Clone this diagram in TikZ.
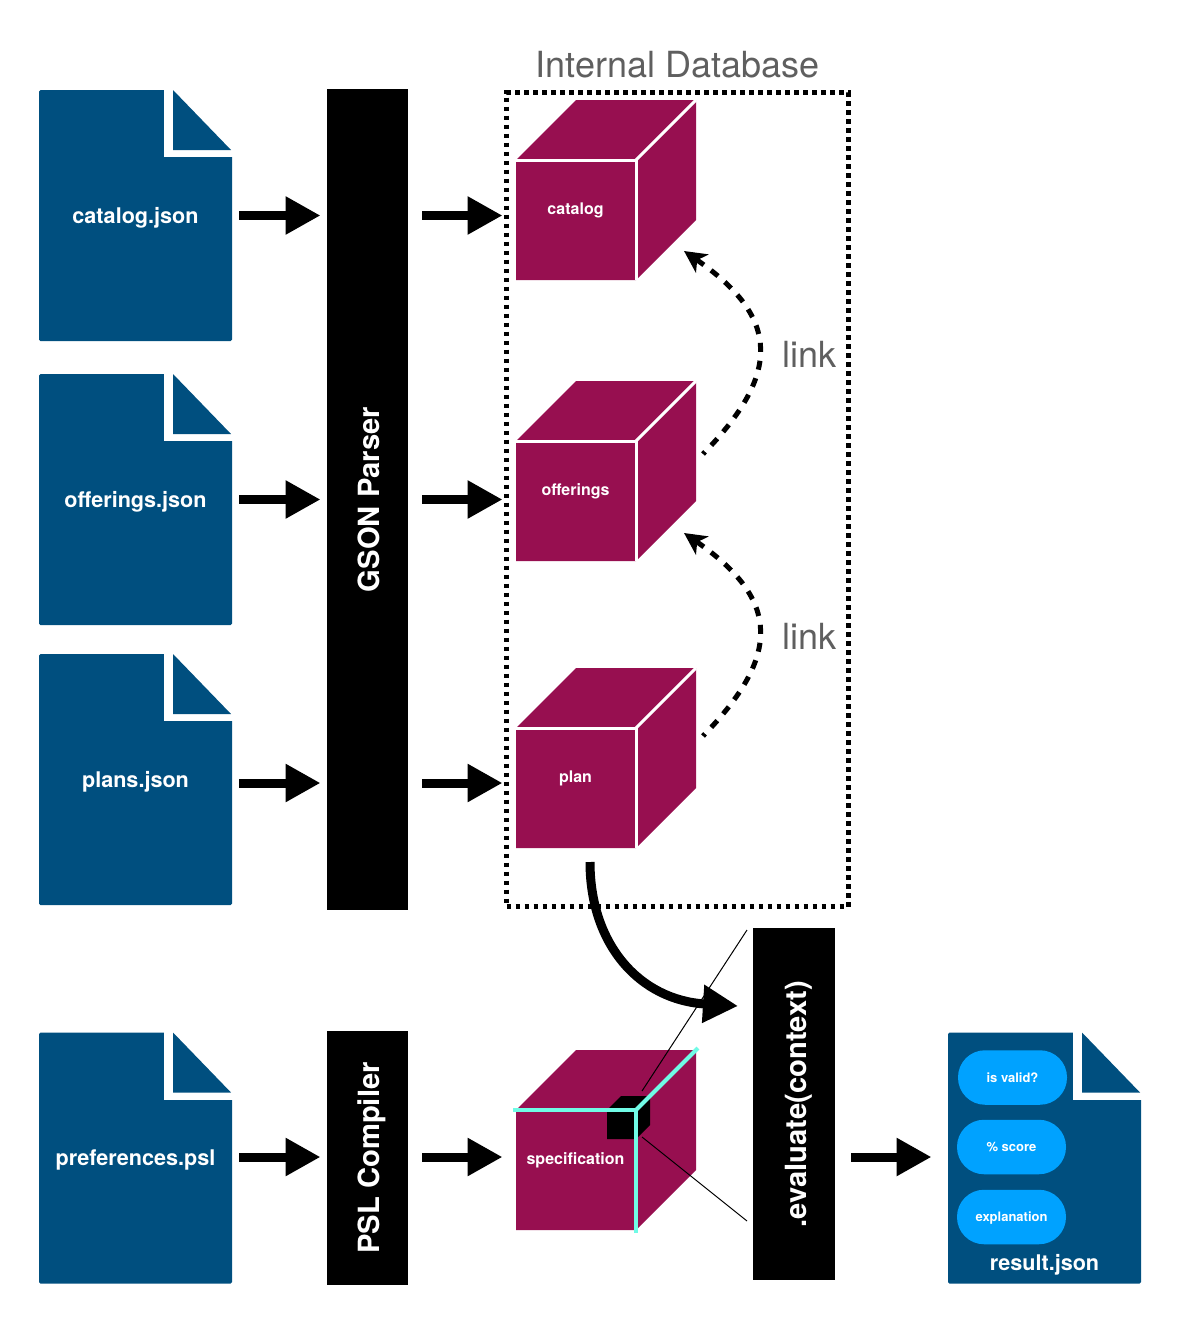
\documentclass[tikz,border=0pt]{standalone}
\usepackage{fontspec}
\setmainfont{TeX Gyre Heros}
\usetikzlibrary{arrows.meta}
\definecolor{fileBlue}{HTML}{004F7F}
\definecolor{cubeRed}{HTML}{970F50}
\definecolor{pillBlue}{HTML}{00A2FF}
\definecolor{edgeCyan}{HTML}{70FBE6}
\definecolor{noteGray}{HTML}{5F5F5F}
\tikzstyle{fileRect} = [rectangle, rounded corners=1.5pt, minimum width=193pt, minimum height=251pt, inner sep=0pt, outer sep=0pt, fill=fileBlue, text=white, text height=20pt, text depth=4.6pt, font=\fontsize{21.6}{24}\selectfont\bfseries]
\tikzstyle{bar} = [rectangle, rotate=90, minimum height=81pt, inner sep=0pt, outer sep=0pt, fill=black, text=white, text height=30pt, text depth=6pt, font=\fontsize{29.2}{32}\selectfont\bfseries]
\tikzstyle{front} = [rectangle, minimum width=120pt, minimum height=120pt, inner sep=0pt, outer sep=0pt, fill=cubeRed]
\tikzstyle{cubeText} = [inner sep=0pt, text=white, text height=12pt, text depth=3.5pt, font=\fontsize{16}{18}\selectfont\bfseries]
\tikzstyle{pill} = [rectangle, rounded corners=27pt, minimum width=109pt, minimum height=54.5pt, inner sep=0pt, fill=pillBlue, text=white, text height=12pt, text depth=3pt, font=\fontsize{13}{15}\selectfont\bfseries]
\tikzstyle{note} = [inner sep=0pt, text=noteGray, font=\fontsize{36}{40}\selectfont]
\tikzstyle{arrow} = [->,>={Triangle[length=35pt,width=36pt]},line width=9pt]
\tikzstyle{linkArrow} = [->,>={Stealth[length=22pt,width=22pt,inset=6pt]},line width=5pt,dash pattern=on 9pt off 9pt,dash phase=6pt]
\newcommand{\fileFold}[1]{
        \fill[white] ([xshift=1pt,yshift=1pt]#1.north east) rectangle ([xshift=-68pt,yshift=-67pt]#1.north east);
        \fill[fileBlue] ([xshift=-59pt]#1.north east) -- ([xshift=-1pt,yshift=-60pt]#1.north east) -- ([xshift=-59pt,yshift=-60pt]#1.north east) -- cycle;
}
\newcommand{\cubeBody}[1]{
        \fill[cubeRed] (#1.north west) -- ++(60pt,60pt) -- ++(120pt,0pt) -- ++(0pt,-120pt) -- (#1.south east) -- (#1.south west) -- cycle;
}
\begin{document}
\begin{tikzpicture}[x=1pt,y=-1pt]
        \useasboundingbox (0,0) rectangle (1178,1328);

        \node[rectangle, draw=black, line width=4.3pt, dash pattern=on 4.5pt off 4.5pt, minimum width=342pt, minimum height=814pt, inner sep=0pt] (database) at (677.5,499.5) {};
        \node[note] (databaseTitle) at (677.5,65) {Internal Database};

        \foreach \name/\ypos/\lab in {catalogFile/215.5/catalog.json,offeringsFile/499.5/offerings.json,plansFile/779.5/plans.json,preferencesFile/1158/preferences.psl}
        {\node[fileRect] (\name) at (135.5,\ypos) {\lab};
        \fileFold{\name}}

        \node[fileRect] (resultFile) at (1044.5,1158) {};
        \fileFold{resultFile}
        \node[cubeText, text height=16pt, text depth=4.6pt, font=\fontsize{21.6}{24}\selectfont\bfseries] (resultText) at (1044.5,1265) {result.json};
        \node[pill] (valid) at (1012.5,1077.5) {is valid?};
        \node[pill] (score) at (1011.5,1147) {\% score};
        \node[pill] (explanation) at (1011.5,1217) {explanation};

        \node[bar, minimum width=821pt] (parser) at (367.5,499.5) {GSON Parser};
        \node[bar, minimum width=254pt] (compiler) at (367.5,1158) {PSL Compiler};
        \node[bar, minimum width=352pt, minimum height=82pt] (evaluate) at (794,1104) {.evaluate(context)};

        \foreach \name/\ypos in {catalog/160,offerings/441,plan/728,specification/1110}
        {\node[front] (\name) at (576,\ypos+60) {};
        \cubeBody{\name}
        \node[cubeText] (\name Text) at (575.5,\ypos+50.5) {\name};}

        \foreach \name in {catalog,offerings,plan}
        {\draw[white, line width=3pt] (\name.north west) -- (\name.north east) -- (\name.south east);
        \draw[white, line width=3pt] (\name.north east) -- ++(60pt,60pt);}

        \fill[black] (607,1110) -- (621,1096) -- (650,1096) -- (650,1125) -- (636,1139) -- (607,1139) -- cycle;
        \draw[edgeCyan, line width=4pt] (513,1110) -- (specification.north east) -- (636,1233);
        \draw[edgeCyan, line width=4pt] (specification.north east) -- (698,1048);

        \coordinate (lensTop) at (747,930);
        \coordinate (lensBottom) at (747,1221);
        \draw[line width=1pt] (642,1091) -- (lensTop);
        \draw[line width=1pt] (642,1137) -- (lensBottom);

        \draw[arrow, shorten <=7pt, shorten >=6.5pt] (catalogFile.east) -- (catalogFile.east -| parser.north);
        \draw[arrow, shorten <=7pt, shorten >=6.5pt] (offeringsFile.east) -- (offeringsFile.east -| parser.north);
        \draw[arrow, shorten <=7pt, shorten >=6.5pt] ([yshift=-3.5pt]plansFile.east) -- ([yshift=-3.5pt]plansFile.east -| parser.north);
        \draw[arrow, shorten <=7pt, shorten >=6.5pt] ([yshift=1pt]preferencesFile.east) -- ([yshift=1pt]preferencesFile.east -| compiler.north);

        \draw[arrow, shorten <=14pt, shorten >=13.5pt] (catalogFile.east -| parser.south) -- (catalogFile.east -| catalog.west);
        \draw[arrow, shorten <=14pt, shorten >=13.5pt] (offeringsFile.east -| parser.south) -- (offeringsFile.east -| offerings.west);
        \draw[arrow, shorten <=14pt, shorten >=13.5pt] ([yshift=-3.5pt]plansFile.east -| parser.south) -- ([yshift=-3.5pt]plansFile.east -| plan.west);
        \draw[arrow, shorten <=14pt, shorten >=13.5pt] ([yshift=1pt]preferencesFile.east -| compiler.south) -- ([yshift=1pt]preferencesFile.east -| specification.west);
        \draw[arrow, shorten <=16pt, shorten >=16.5pt] ([yshift=1pt]preferencesFile.east -| evaluate.south) -- ([yshift=1pt]resultFile.west);

        \coordinate (planOut) at (590,862);
        \coordinate (evaluateIn) at (738,1006);
        \draw[arrow] (planOut) .. controls (590,945) and (640,1000) .. (evaluateIn);

        \coordinate (offeringsLink) at (703,454);
        \coordinate (catalogLink) at (684,251);
        \coordinate (planLink) at (703,736);
        \coordinate (offeringsIn) at (684,533);
        \draw[linkArrow] (offeringsLink) .. controls (781,374) and (781,318) .. (catalogLink);
        \draw[linkArrow] (planLink) .. controls (781,656) and (781,600) .. (offeringsIn);
        \node[note] (linkTop) at (809.5,354) {link};
        \node[note] (linkBottom) at (809.5,636) {link};
\end{tikzpicture}
\end{document}
